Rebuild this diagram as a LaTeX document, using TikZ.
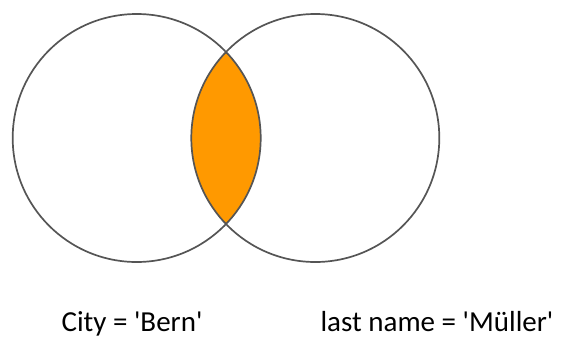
\documentclass[tikz,border=0pt]{standalone}
\usepackage{fontspec}
\setmainfont{Carlito}
\usetikzlibrary{positioning}

\definecolor{ringgray}{RGB}{85,85,85}
\definecolor{lensorange}{RGB}{255,153,0}

\begin{document}
\begin{tikzpicture}[x=1pt,y=-1pt,
  ring/.style={draw=ringgray,line width=1.7pt},
  setlabel/.style={anchor=base,inner sep=0pt,font=\fontsize{29}{33}\selectfont}]
  \useasboundingbox (0,0) rectangle (567,338);
  \coordinate (cityc) at (136.7,138);
  \coordinate (namec) at (315.3,138);
  % overlap of both sets
  \begin{scope}
    \clip (cityc) circle (124);
    \fill[lensorange] (namec) circle (124);
  \end{scope}
  \draw[ring] (cityc) circle (124);
  \draw[ring] (namec) circle (124);
  \node[setlabel] (citylbl) at (132,331) {City = \textquotesingle Bern\textquotesingle};
  \node[setlabel] (namelbl) at (437,331) {last name = \textquotesingle Müller\textquotesingle};
\end{tikzpicture}
\end{document}
